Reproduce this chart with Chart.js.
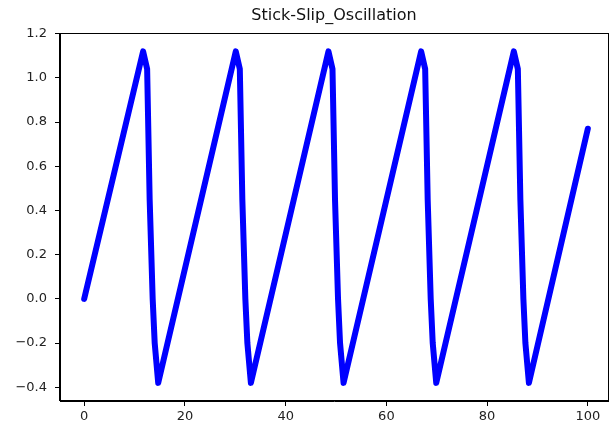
<!DOCTYPE html>
<html>
<head>
<meta charset="utf-8">
<title>Stick-Slip_Oscillation</title>
<script src="https://cdn.jsdelivr.net/npm/chart.js@4.4.1/dist/chart.umd.min.js"></script>
<style>
  html, body { margin: 0; padding: 0; background: #fff; }
  canvas { display: block; }
</style>
</head>
<body>
<canvas id="plot" width="614" height="432"></canvas>
<script>
const chartTitle = 'Stick-Slip_Oscillation';

// sawtooth vertices: slow stick ramp, then fast slip drop
const timeValues = [
  0,
  11.7, 12.5, 13.0, 13.6, 14.0, 14.7,
  30.1, 30.9, 31.4, 32.0, 32.4, 33.1,
  48.5, 49.3, 49.8, 50.4, 50.8, 51.5,
  66.9, 67.7, 68.2, 68.8, 69.2, 69.9,
  85.3, 86.1, 86.6, 87.2, 87.6, 88.3,
  100
];
const positionValues = [
  0,
  1.12, 1.04, 0.45, 0.0, -0.2, -0.38,
  1.12, 1.04, 0.45, 0.0, -0.2, -0.38,
  1.12, 1.04, 0.45, 0.0, -0.2, -0.38,
  1.12, 1.04, 0.45, 0.0, -0.2, -0.38,
  1.12, 1.04, 0.45, 0.0, -0.2, -0.38,
  0.77
];

const xTicks = [0, 20, 40, 60, 80, 100];
const yTicks = [-0.4, -0.2, 0.0, 0.2, 0.4, 0.6, 0.8, 1.0, 1.2];

const FONT = 'DejaVu Sans';

// box around the plot area (top and right sides have no axis of their own)
const frame = {
  id: 'frame',
  afterDraw(chart) {
    const a = chart.chartArea;
    const ctx = chart.ctx;
    ctx.save();
    ctx.strokeStyle = '#000';
    ctx.lineWidth = 1;
    ctx.strokeRect(Math.round(a.left) - 0.5, Math.round(a.top) + 0.5,
      Math.round(a.right - a.left) + 1, Math.round(a.bottom - a.top) - 1);
    ctx.restore();
  }
};

const points = timeValues.map((t, i) => ({ x: t, y: positionValues[i] }));

new Chart(document.getElementById('plot'), {
  type: 'scatter',
  data: {
    datasets: [{
      data: points,
      showLine: true,
      borderColor: '#0000ff',
      backgroundColor: '#0000ff',
      borderWidth: 6,
      borderJoinStyle: 'round',
      borderCapStyle: 'round',
      pointRadius: 0,
      tension: 0
    }]
  },
  options: {
    responsive: false,
    animation: false,
    layout: { padding: { top: 0, right: 6, bottom: 0, left: 0 } },
    plugins: {
      legend: { display: false },
      tooltip: { enabled: false },
      title: {
        display: true,
        text: chartTitle,
        fullSize: false,
        color: '#111',
        font: { family: FONT, size: 16, weight: 'normal' },
        padding: { top: 6, bottom: 8 }
      }
    },
    scales: {
      x: {
        type: 'linear',
        min: -4.8,
        max: 104,
        afterBuildTicks: s => { s.ticks = xTicks.map(v => ({ value: v })); },
        afterFit: s => { s.height = 31; },
        grid: { drawOnChartArea: false, tickLength: 5, color: '#000' },
        border: { color: '#000' },
        ticks: {
          color: '#222',
          padding: 3,
          maxRotation: 0,
          font: { family: FONT, size: 13 },
          callback: v => String(v)
        }
      },
      y: {
        min: -0.462,
        max: 1.202,
        afterBuildTicks: s => { s.ticks = yTicks.map(v => ({ value: v })); },
        afterFit: s => { s.width = 60; },
        grid: { drawOnChartArea: false, tickLength: 5, color: '#000' },
        border: { color: '#000' },
        ticks: {
          color: '#222',
          padding: 8,
          font: { family: FONT, size: 13 },
          callback: v => v.toFixed(1).replace('-', '\u2212')
        }
      }
    }
  },
  plugins: [frame]
});
</script>
</body>
</html>
